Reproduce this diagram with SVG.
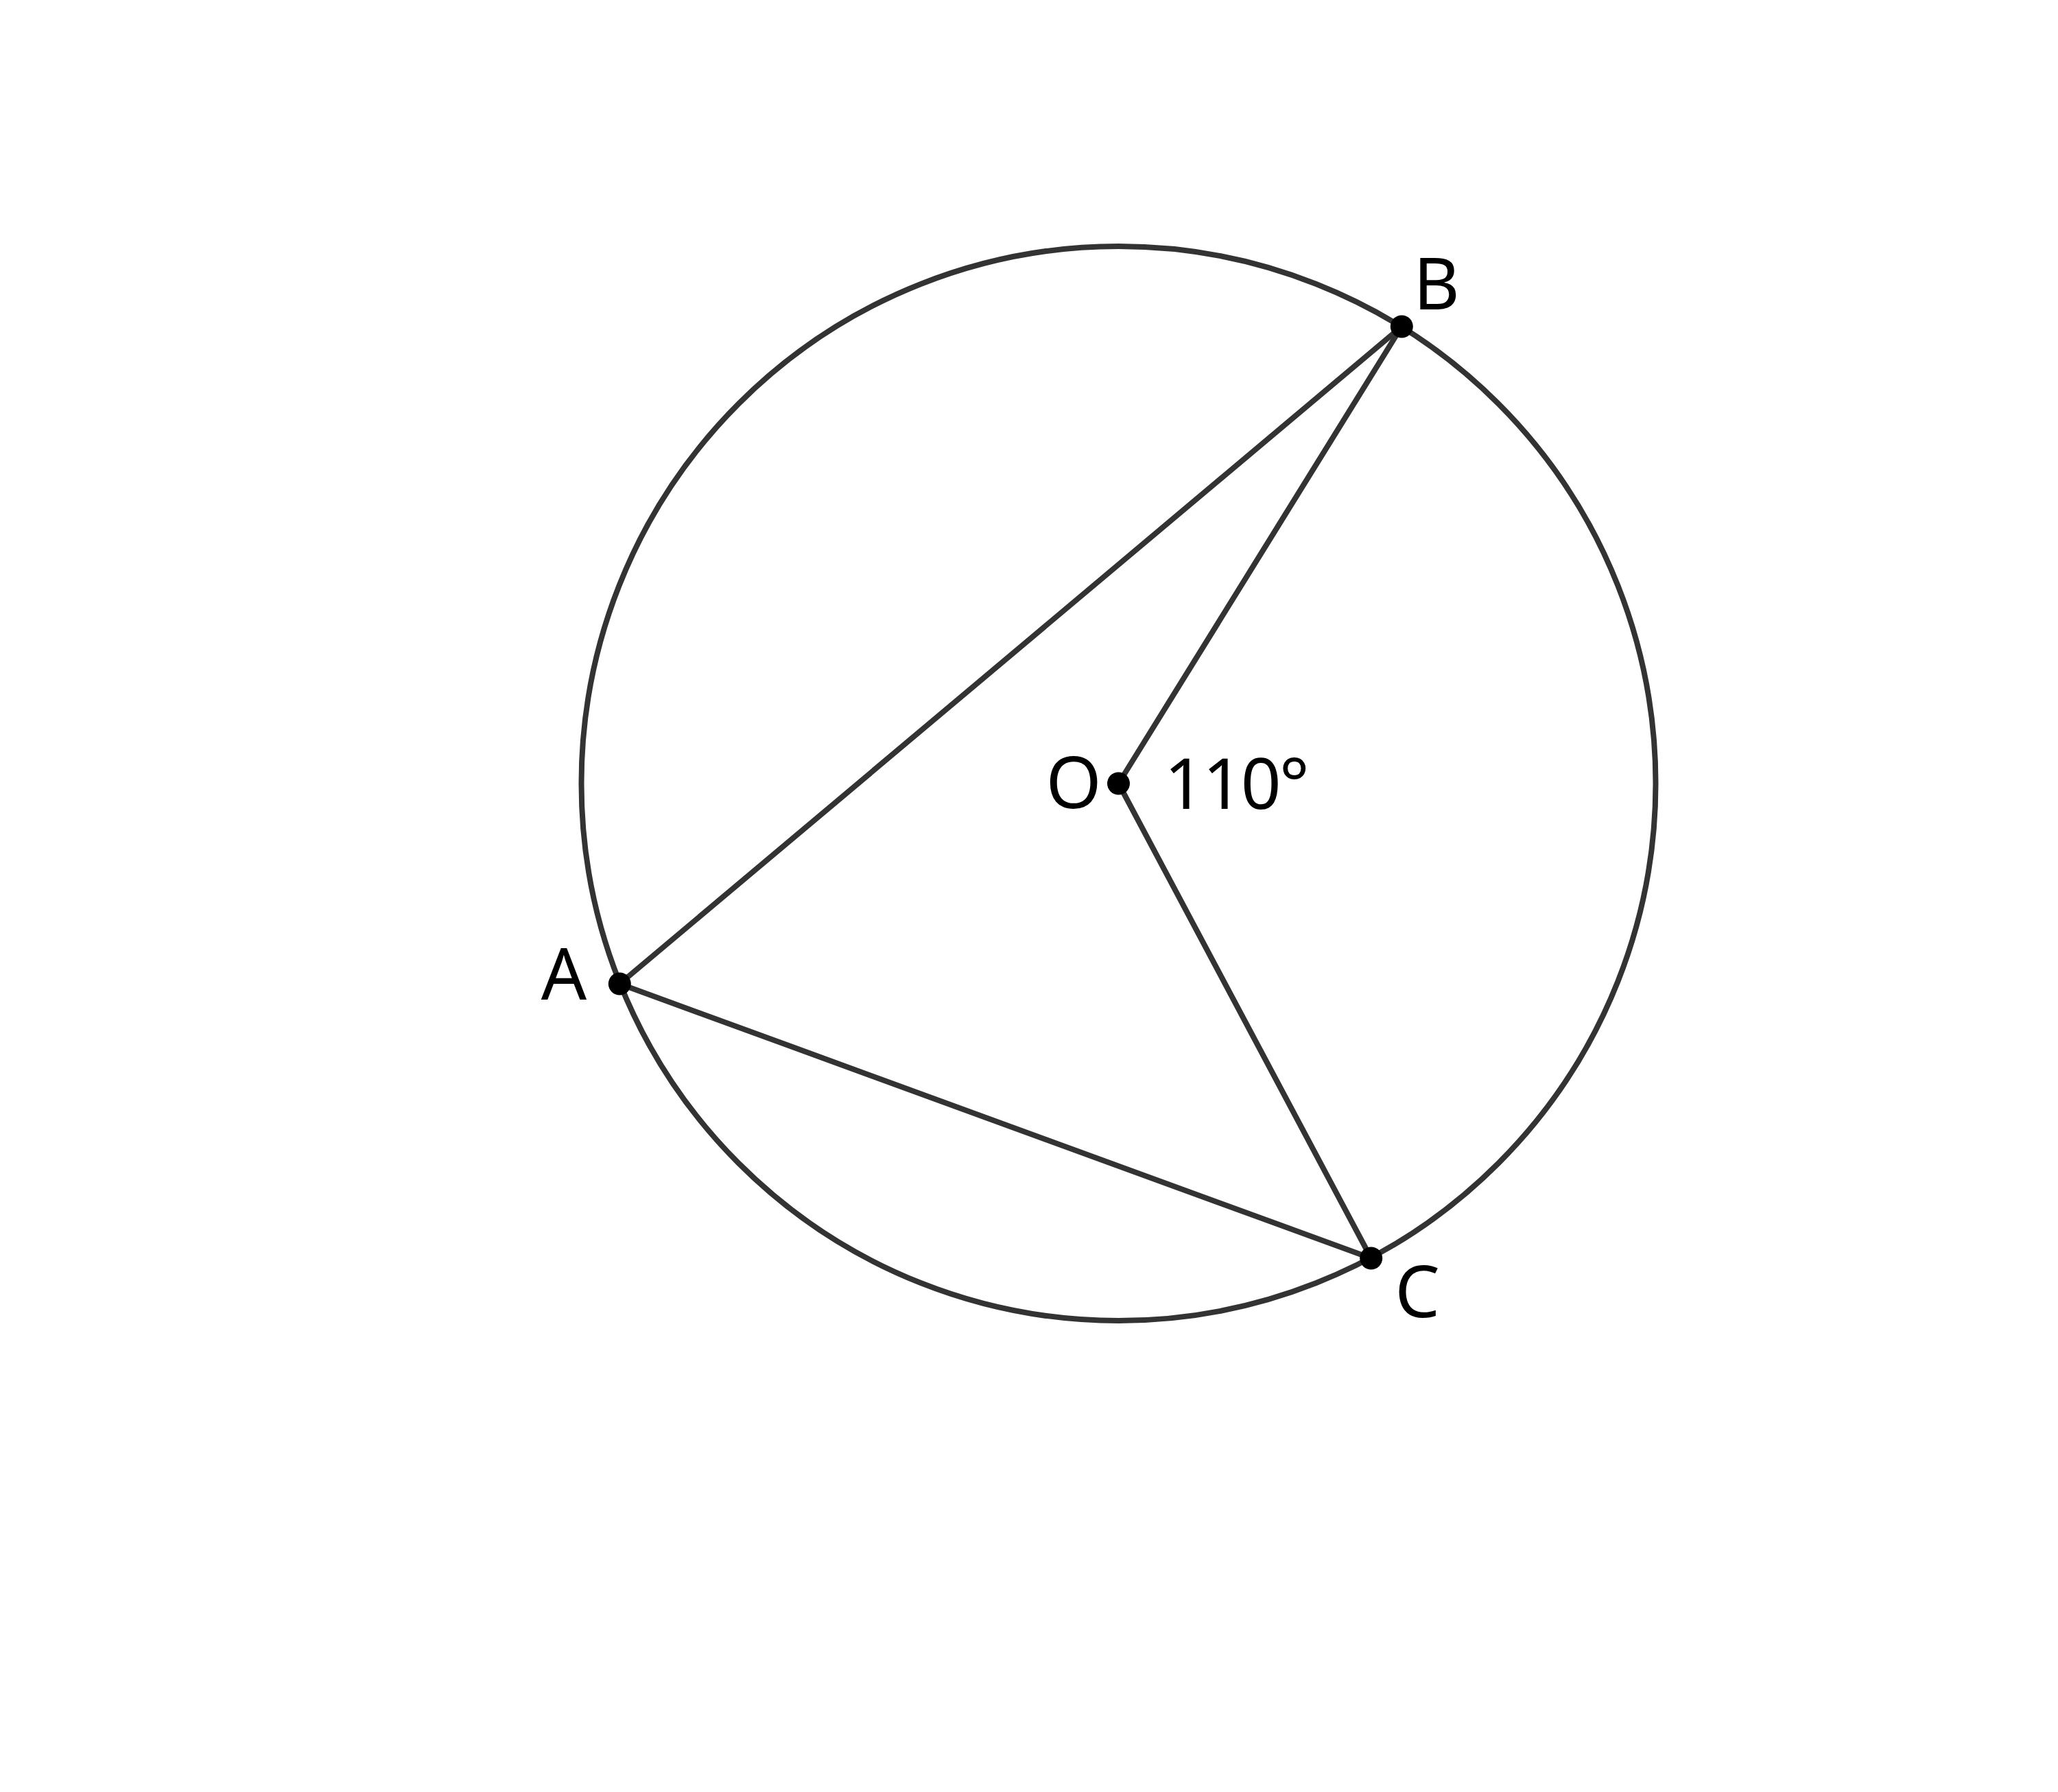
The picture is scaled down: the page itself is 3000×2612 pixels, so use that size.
<svg xmlns="http://www.w3.org/2000/svg" width="3000" height="2612" viewBox="0 0 3000 2612">
<style>
.ln{stroke:#333;stroke-width:8;fill:none;stroke-linecap:round}
.pt{fill:#000}
.lb{font-family:"Noto Sans","Open Sans","Liberation Sans",sans-serif;font-size:104px;fill:#000}
</style>
<rect width="3000" height="2612" fill="#fff"/>
<g id="connectors">
<circle class="ln" cx="1630.5" cy="1142" r="783"/>
<line class="ln" x1="903.3" y1="1434" x2="2043.3" y2="476"/>
<line class="ln" x1="2043.3" y1="476" x2="1630.5" y2="1142"/>
<line class="ln" x1="1630.5" y1="1142" x2="1998.7" y2="1834"/>
<line class="ln" x1="903.3" y1="1434" x2="1998.7" y2="1834"/>
</g>
<g id="O"><circle class="pt" cx="1630.5" cy="1142" r="16.5"/><text class="lb" x="1565" y="1178" text-anchor="middle">O</text></g>
<g id="angle"><text class="lb" x="1697" y="1179" style="font-size:103px;letter-spacing:-3px">110°</text></g>
<g id="B"><circle class="pt" cx="2043.3" cy="476" r="16.5"/><text class="lb" x="2094" y="451" text-anchor="middle">B</text></g>
<g id="A"><circle class="pt" cx="903.3" cy="1434" r="16.5"/><text class="lb" x="822" y="1457" text-anchor="middle">A</text></g>
<g id="C"><circle class="pt" cx="1998.7" cy="1834" r="16.5"/><text class="lb" x="2066" y="1920" text-anchor="middle">C</text></g>
</svg>
